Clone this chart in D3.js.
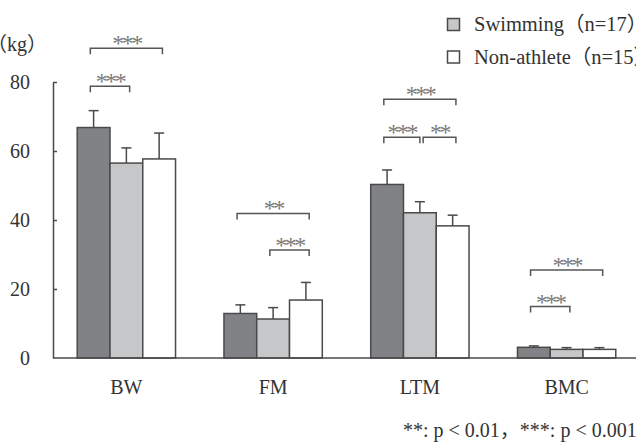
<!DOCTYPE html>
<html>
<head>
<meta charset="utf-8">
<script src="https://cdn.jsdelivr.net/npm/d3@7"></script>
<style>
  html, body { margin: 0; padding: 0; background: #fff; overflow: hidden; }
  svg { display: block; }
</style>
</head>
<body>
<svg id="chart" width="636" height="445"></svg>
<script>
// data (kg)
var categories = ["BW", "FM", "LTM", "BMC"];
var series = ["Elite", "Swimming\uFF08n=17\uFF09", "Non-athlete\uFF08n=15\uFF09"];
var means = [
    [66.8, 56.5, 57.7],   // BW
    [12.9, 11.3, 16.8],   // FM
    [50.3, 42.1, 38.3],   // LTM
    [3.1, 2.5, 2.5]       // BMC
];
var sds = [
    [4.9, 4.4, 7.5],
    [2.5, 3.3, 5.1],
    [4.2, 3.2, 3.1],
    [0.4, 0.5, 0.5]
];
var yTicks = [0, 20, 40, 60, 80];
// significance brackets: category, bars compared, bracket level (kg), label
var brackets = [
    { cat: "BW", from: 0, to: 2, level: 89.8, label: "***" },
    { cat: "BW", from: 0, to: 1, level: 78.8, label: "***" },
    { cat: "FM", from: 0, to: 2, level: 41.9, label: "**" },
    { cat: "FM", from: 1, to: 2, level: 31.3, label: "***" },
    { cat: "LTM", from: 0, to: 2, level: 75.0, label: "***" },
    { cat: "LTM", from: 0, to: 1, level: 64.0, label: "***" },
    { cat: "LTM", from: 1, to: 2, level: 64.0, label: "**" },
    { cat: "BMC", from: 0, to: 2, level: 25.5, label: "***" },
    { cat: "BMC", from: 0, to: 1, level: 14.9, label: "***" }
];
var note = "**: p < 0.01\uFF0C***: p < 0.001";

var colors = ["#818285", "#c6c7c9", "#ffffff"];
var ink = "#4a4a4a";
var serif = "'Liberation Serif', 'Noto Sans CJK JP', serif";

var svg = d3.select("#chart");

var x0 = d3.scaleBand()
    .domain(categories)
    .range([53, 640])
    .paddingInner(0.33)
    .paddingOuter(0.165);

var x1 = d3.scaleBand()
    .domain(d3.range(series.length))
    .range([0, x0.bandwidth()]);

var y = d3.scaleLinear()
    .domain([0, 80])
    .range([358, 82]);

// y axis
var yAxis = svg.append("g")
    .attr("transform", "translate(53,0)")
    .call(d3.axisLeft(y)
        .tickValues(yTicks)
        .tickSizeInner(-4)
        .tickSizeOuter(0)
        .tickPadding(23));
yAxis.select(".domain").attr("stroke", ink).attr("stroke-width", 1.5);
yAxis.selectAll(".tick line").attr("stroke", ink).attr("stroke-width", 1.5)
    .filter(function(d) { return d == 0; }).remove();
yAxis.selectAll(".tick text")
    .style("font-size", "20px")
    .style("font-family", serif)
    .style("fill", "#333");

svg.append("text")
    .attr("x", -13)
    .attr("y", 51)
    .style("font-size", "20px")
    .style("font-family", serif)
    .style("fill", "#333")
    .text("\uFF08kg\uFF09");

// bars
var groups = svg.selectAll("g.grp")
    .data(categories)
    .enter()
    .append("g")
    .attr("class", "grp")
    .attr("transform", function(d) { return `translate(${x0(d)},0)`; });

function rows(d, i) {
    return means[i].map(function(v, j) { return { v: v, s: sds[i][j], j: j }; });
}

groups.selectAll("rect")
    .data(rows)
    .enter()
    .append("rect")
    .attr("x", function(d) { return x1(d.j); })
    .attr("y", function(d) { return y(d.v); })
    .attr("width", x1.bandwidth())
    .attr("height", function(d) { return y(0) - y(d.v); })
    .style("fill", function(d) { return colors[d.j]; })
    .style("stroke", ink)
    .style("stroke-width", 1.5);

// error bars
var err = groups.selectAll("g.err")
    .data(rows)
    .enter()
    .append("g")
    .attr("class", "err")
    .attr("stroke", ink)
    .attr("stroke-width", 1.5);
err.append("line")
    .attr("x1", function(d) { return x1(d.j) + x1.bandwidth() / 2; })
    .attr("x2", function(d) { return x1(d.j) + x1.bandwidth() / 2; })
    .attr("y1", function(d) { return y(d.v); })
    .attr("y2", function(d) { return y(d.v + d.s); });
err.append("line")
    .attr("x1", function(d) { return x1(d.j) + x1.bandwidth() / 2 - 5; })
    .attr("x2", function(d) { return x1(d.j) + x1.bandwidth() / 2 + 5; })
    .attr("y1", function(d) { return y(d.v + d.s); })
    .attr("y2", function(d) { return y(d.v + d.s); });

// x axis baseline
svg.append("line")
    .attr("x1", 53).attr("x2", 640)
    .attr("y1", y(0)).attr("y2", y(0))
    .attr("stroke", ink).attr("stroke-width", 1.5);

svg.selectAll("text.cat")
    .data(categories)
    .enter()
    .append("text")
    .attr("class", "cat")
    .attr("x", function(d) { return x0(d) + x0.bandwidth() / 2; })
    .attr("y", 394)
    .attr("text-anchor", "middle")
    .style("font-size", "20px")
    .style("font-family", serif)
    .style("fill", "#333")
    .text(function(d) { return d; });

// significance brackets
brackets.forEach(function(b) {
    // shrink brackets that share a bar at the same level
    var startF = 0.4, endF = 0.6;
    brackets.forEach(function(o) {
        if (o === b || o.cat != b.cat || o.level != b.level) return;
        if (o.from == b.to) endF = 0.5;
        if (o.to == b.from) startF = 0.6;
    });
    var xa = x0(b.cat) + x1(b.from) + x1.bandwidth() * startF;
    var xb = x0(b.cat) + x1(b.to) + x1.bandwidth() * endF;
    var yy = y(b.level);
    svg.append("path")
        .attr("d", `M${xa},${yy + 6}V${yy}H${xb}V${yy + 6}`)
        .attr("fill", "none")
        .attr("stroke", "#555")
        .attr("stroke-width", 1.5);
    svg.append("text")
        .attr("x", (xa + xb) / 2)
        .attr("y", yy + 3)
        .attr("text-anchor", "middle")
        .style("font-size", "24px")
        .style("letter-spacing", "-2.5px")
        .style("font-family", serif)
        .style("fill", "#7a7a7a")
        .text(b.label);
});

// legend (first series not shown in picture)
var legend = svg.append("g");
series.slice(1).forEach(function(s, i) {
    legend.append("rect")
        .attr("x", 447.5)
        .attr("y", 18.5 + i * 32.5)
        .attr("width", 12)
        .attr("height", 12)
        .style("fill", colors[i + 1])
        .style("stroke", ink)
        .style("stroke-width", 1.5);
    legend.append("text")
        .attr("x", 474)
        .attr("y", 31 + i * 32.5)
        .style("font-size", "20.5px")
        .style("font-family", serif)
        .style("fill", "#333")
        .text(s);
});

svg.append("text")
    .attr("x", 403)
    .attr("y", 437)
    .style("font-size", "20px")
    .style("font-family", serif)
    .style("fill", "#333")
    .text(note);
</script>
</body>
</html>
